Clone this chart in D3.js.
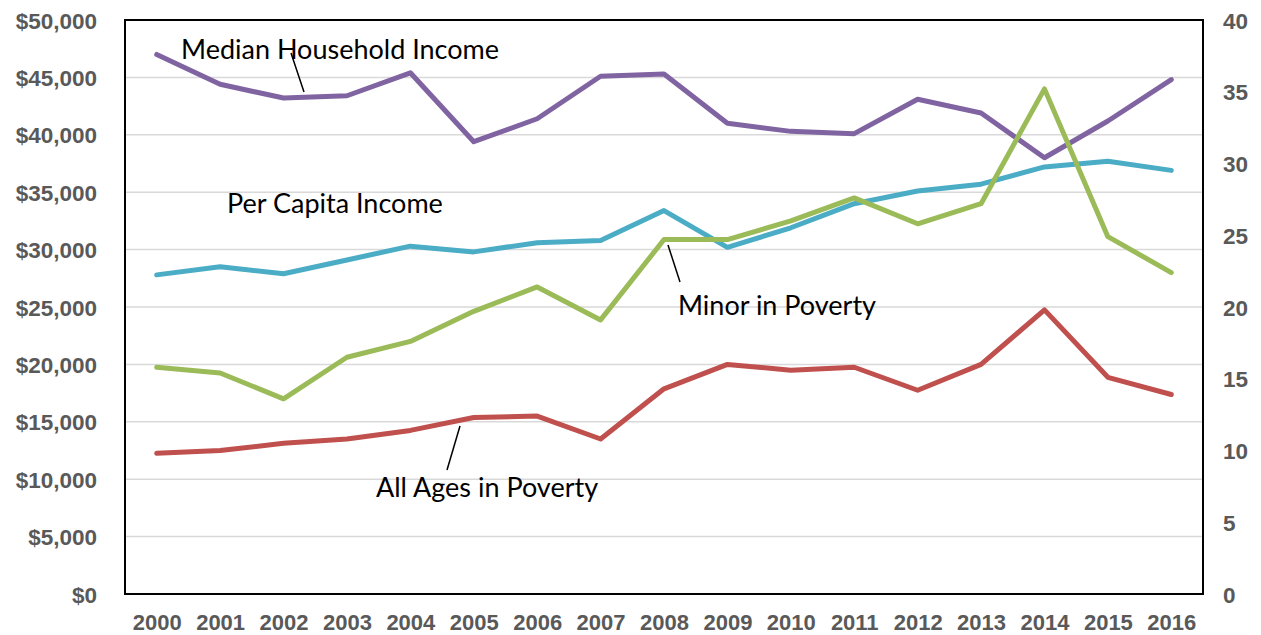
<!DOCTYPE html>
<html>
<head>
<meta charset="utf-8">
<script src="https://cdn.jsdelivr.net/npm/d3@7"></script>
<style>
  html, body { margin: 0; padding: 0; background: #fff; }
  svg { display: block; }
</style>
</head>
<body>
<svg id="chart" width="1261" height="635"></svg>
<script>
const years = ["2000","2001","2002","2003","2004","2005","2006","2007","2008","2009","2010","2011","2012","2013","2014","2015","2016"];
const medianHouseholdIncome = [47000,44400,43200,43400,45400,39400,41400,45100,45300,41000,40300,40100,43100,41900,38000,41200,44800];
const perCapitaIncome = [27800,28500,27900,29100,30300,29800,30600,30800,33400,30200,31900,34000,35100,35700,37200,37700,36900];
const minorInPoverty = [15.8,15.4,13.6,16.5,17.6,19.7,21.4,19.1,24.7,24.7,26.0,27.6,25.8,27.2,35.2,24.9,22.4];
const allAgesInPoverty = [9.8,10.0,10.5,10.8,11.4,12.3,12.4,10.8,14.3,16.0,15.6,15.8,14.2,16.0,19.8,15.1,13.9];
const leftTicks = [0,5000,10000,15000,20000,25000,30000,35000,40000,45000,50000];
const rightTicks = [0,5,10,15,20,25,30,35,40];

const series = [
  { name: "Median Household Income", values: medianHouseholdIncome, axis: "left", color: "#8064a2" },
  { name: "Per Capita Income", values: perCapitaIncome, axis: "left", color: "#4bacc6" },
  { name: "Minor in Poverty", values: minorInPoverty, axis: "right", color: "#9bbb59" },
  { name: "All Ages in Poverty", values: allAgesInPoverty, axis: "right", color: "#c0504d" }
];

const svg = d3.select("#chart");
const plot = { left: 125, right: 1203, top: 20, bottom: 594 };

const x = d3.scalePoint().domain(years).range([plot.left, plot.right]).padding(0.5);
const yL = d3.scaleLinear().domain([0, 50000]).range([plot.bottom, plot.top]);
const yR = d3.scaleLinear().domain([0, 40]).range([plot.bottom, plot.top]);

// gridlines
svg.append("g").selectAll("line").data(leftTicks.filter(d => d > 0 && d < 50000)).join("line")
  .attr("x1", plot.left).attr("x2", plot.right)
  .attr("y1", d => yL(d)).attr("y2", d => yL(d))
  .attr("stroke", "#d9d9d9").attr("stroke-width", 1.5);

const tickFont = "'Liberation Sans', Arial, sans-serif";
const fmt = d => "$" + d3.format(",")(d);

// left axis
const gL = svg.append("g").attr("transform", `translate(${plot.left - 28},0)`)
  .call(d3.axisLeft(yL).tickValues(leftTicks).tickFormat(fmt).tickSize(0).tickPadding(0));
gL.select(".domain").remove();
gL.selectAll("text").attr("font-family", tickFont).attr("font-weight", "bold")
  .attr("font-size", 22.5).attr("fill", "#595959").attr("dy", "0.36em");

// right axis
const gR = svg.append("g").attr("transform", `translate(${plot.right + 20},0)`)
  .call(d3.axisRight(yR).tickValues(rightTicks).tickSize(0).tickPadding(0));
gR.select(".domain").remove();
gR.selectAll("text").attr("font-family", tickFont).attr("font-weight", "bold")
  .attr("font-size", 22.5).attr("fill", "#595959").attr("dy", "0.36em");

// x axis
const gX = svg.append("g").attr("transform", `translate(0,${plot.bottom + 19})`)
  .call(d3.axisBottom(x).tickSize(0).tickPadding(0));
gX.select(".domain").remove();
gX.selectAll("text").attr("font-family", tickFont).attr("font-weight", "bold")
  .attr("font-size", 22).attr("fill", "#595959").attr("dy", "0.75em");

// lines
const lineGen = (scale) => d3.line().x((d, i) => x(years[i])).y(d => scale(d));
svg.append("g").selectAll("path").data(series).join("path")
  .attr("d", s => lineGen(s.axis === "left" ? yL : yR)(s.values))
  .attr("fill", "none").attr("stroke", s => s.color)
  .attr("stroke-width", 5).attr("stroke-linejoin", "round").attr("stroke-linecap", "round");

// plot border
svg.append("rect").attr("x", plot.left).attr("y", plot.top)
  .attr("width", plot.right - plot.left).attr("height", plot.bottom - plot.top)
  .attr("fill", "none").attr("stroke", "#000").attr("stroke-width", 2);

// annotations
const labelFont = "Lato, 'Open Sans', sans-serif";
const labels = [
  { text: "Median Household Income", x: 181, y: 59, lx1: 291, ly1: 53, lx2: 304, ly2: 92 },
  { text: "Per Capita Income", x: 227, y: 213 },
  { text: "Minor in Poverty", x: 678, y: 315, lx1: 668, ly1: 245, lx2: 680, ly2: 282 },
  { text: "All Ages in Poverty", x: 376, y: 497, lx1: 460, ly1: 426, lx2: 447, ly2: 470 }
];
const ann = svg.append("g");
ann.selectAll("line").data(labels.filter(d => d.lx1 !== undefined)).join("line")
  .attr("x1", d => d.lx1).attr("y1", d => d.ly1).attr("x2", d => d.lx2).attr("y2", d => d.ly2)
  .attr("stroke", "#000").attr("stroke-width", 1.5);
ann.selectAll("text").data(labels).join("text")
  .attr("x", d => d.x).attr("y", d => d.y).text(d => d.text)
  .attr("font-family", labelFont).attr("font-size", 27).attr("fill", "#000");
</script>
</body>
</html>
